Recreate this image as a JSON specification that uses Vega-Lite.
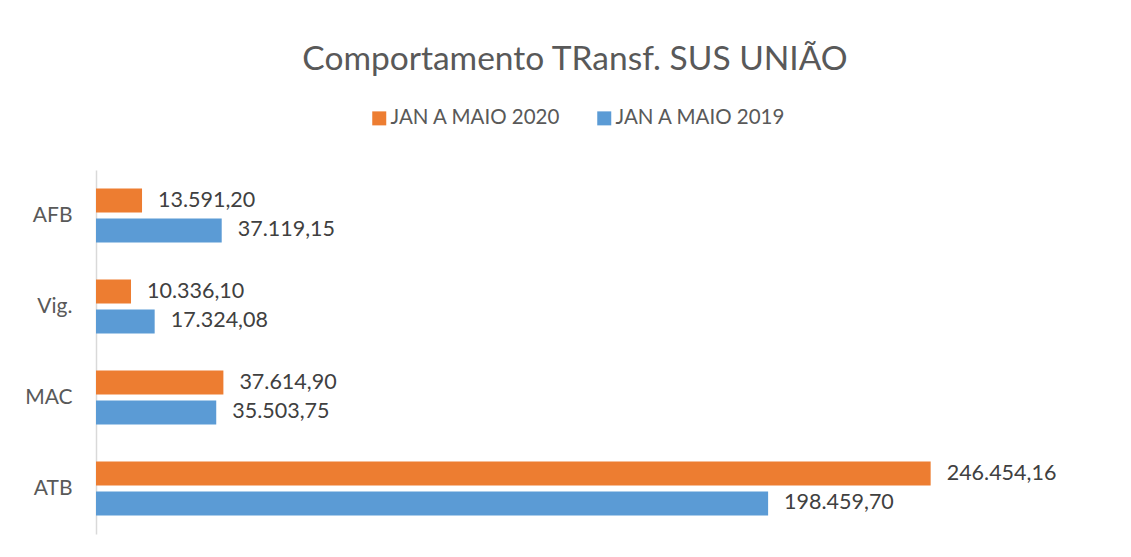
{
  "$schema": "https://vega.github.io/schema/vega-lite/v6.json",
  "width": 1016,
  "height": 364,
  "autosize": {"type": "none"},
  "padding": {"left": 96, "top": 170, "right": 19, "bottom": 23},
  "background": "white",
  "config": {
    "locale": {"number": {"decimal": ",", "thousands": ".", "grouping": [3], "currency": ["R$", ""]}},
    "view": {"stroke": null},
    "font": "Lato"
  },
  "title": {
    "text": "Comportamento TRansf. SUS UNIÃO",
    "font": "Lato",
    "fontSize": 33.5,
    "fontWeight": "normal",
    "color": "#595959",
    "anchor": "middle",
    "baseline": "alphabetic",
    "dx": -29,
    "offset": 5
  },
  "data": {
    "values": [
      {"cat": "AFB", "serie": "JAN A MAIO 2020", "valor": 13591.20},
      {"cat": "AFB", "serie": "JAN A MAIO 2019", "valor": 37119.15},
      {"cat": "Vig.", "serie": "JAN A MAIO 2020", "valor": 10336.10},
      {"cat": "Vig.", "serie": "JAN A MAIO 2019", "valor": 17324.08},
      {"cat": "MAC", "serie": "JAN A MAIO 2020", "valor": 37614.90},
      {"cat": "MAC", "serie": "JAN A MAIO 2019", "valor": 35503.75},
      {"cat": "ATB", "serie": "JAN A MAIO 2020", "valor": 246454.16},
      {"cat": "ATB", "serie": "JAN A MAIO 2019", "valor": 198459.70}
    ]
  },
  "encoding": {
    "y": {
      "field": "cat",
      "type": "nominal",
      "sort": ["AFB", "Vig.", "MAC", "ATB"],
      "scale": {"paddingInner": 0.4066, "paddingOuter": 0.2033},
      "title": null,
      "axis": {
        "ticks": false,
        "domainColor": "#d9d9d9",
        "domainWidth": 1.5,
        "labelFontSize": 21,
        "labelColor": "#595959",
        "labelFont": "Lato",
        "labelPadding": 24
      }
    },
    "yOffset": {
      "field": "serie",
      "type": "nominal",
      "sort": ["JAN A MAIO 2020", "JAN A MAIO 2019"],
      "scale": {"paddingInner": 0.2, "paddingOuter": 0}
    },
    "x": {
      "field": "valor",
      "type": "quantitative",
      "scale": {"domain": [0, 300000]},
      "axis": null
    }
  },
  "layer": [
    {
      "mark": {"type": "bar"},
      "encoding": {
        "color": {
          "field": "serie",
          "type": "nominal",
          "scale": {"domain": ["JAN A MAIO 2020", "JAN A MAIO 2019"], "range": ["#ED7D31", "#5B9BD5"]},
          "legend": {
            "title": null,
            "orient": "none",
            "direction": "horizontal",
            "legendX": 273,
            "legendY": -62,
            "symbolType": "square",
            "symbolSize": 196,
            "symbolStrokeWidth": 0,
            "labelFontSize": 20.5,
            "labelFont": "Lato",
            "labelColor": "#595959",
            "labelOffset": 1,
            "labelLimit": 0,
            "columnPadding": 33
          }
        }
      }
    },
    {
      "mark": {"type": "text", "align": "left", "baseline": "middle", "dx": 16, "fontSize": 21.5, "font": "Lato", "color": "#404040"},
      "encoding": {
        "text": {"field": "valor", "type": "quantitative", "format": ",.2f"}
      }
    }
  ]
}
